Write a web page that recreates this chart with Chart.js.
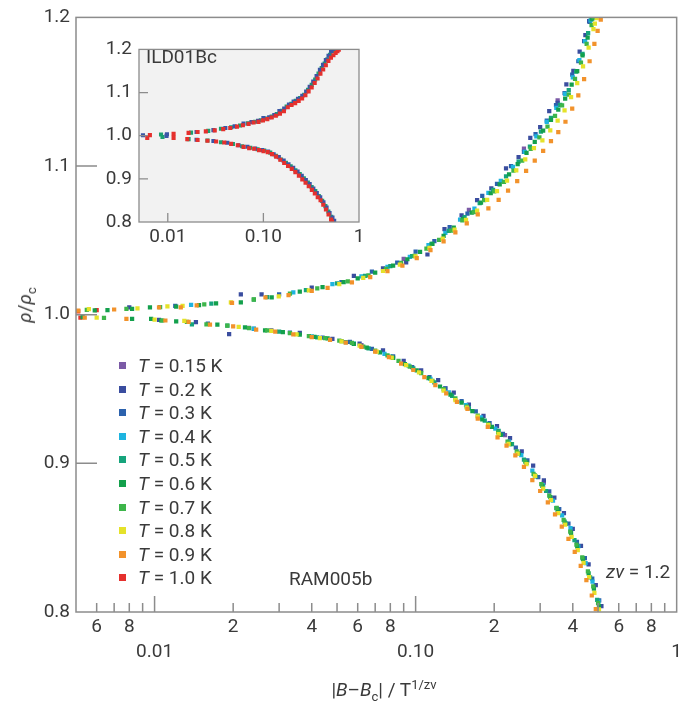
<!DOCTYPE html>
<html>
<head>
<meta charset="utf-8">
<script src="https://cdn.jsdelivr.net/npm/chart.js@4.4.1/dist/chart.umd.min.js"></script>
<style>
  html, body { margin: 0; padding: 0; background: #fff; }
  #wrap { position: relative; width: 685px; height: 705px; overflow: hidden; font-family: Roboto, "Open Sans", sans-serif; color: #3a3a3a; }
  #main { position: absolute; left: 0; top: 0; }
  #inset { position: absolute; left: 89px; top: 31px; }
  .txt { position: absolute; font-size: 19px; line-height: 22px; white-space: nowrap; }
  .leg { position: absolute; left: 0; top: 0; }
  .leg .row { position: absolute; left: 0; height: 22px; line-height: 22px; font-size: 19px; white-space: nowrap; }
  .leg .mk { position: absolute; left: 119px; top: 7px; width: 7px; height: 7px; }
  .leg .lb { position: absolute; left: 138px; top: 0; }
  sub, sup { font-size: 13px; line-height: 0; }
</style>
</head>
<body>
<div id="wrap">
  <canvas id="main" width="685" height="705"></canvas>
  <canvas id="inset" width="281" height="228"></canvas>
  <div id="legend" class="leg"></div>
  <div class="txt" id="ildLabel" style="left:146px; top:46px;">ILD01Bc</div>
  <div class="txt" id="ramLabel" style="left:289px; top:568px;">RAM005b</div>
  <div class="txt" id="znuLabel" style="left:606px; top:561px;"><i>zν</i> = 1.2</div>
  <div class="txt" id="xTitle" style="left:384px; top:679px; transform:translateX(-50%);">|<i>B</i>–<i>B</i><sub>c</sub>| / T<sup>1/zν</sup></div>
  <div class="txt" id="yTitle" style="left:25px; top:305px; transform:translate(-50%,-50%) rotate(-90deg);"><i>ρ</i>/<i>ρ</i><sub>c</sub></div>
</div>
<script>
// ---------- main chart: temperatures and colours ----------
const tempLabels = ['0.15', '0.2', '0.3', '0.4', '0.5', '0.6', '0.7', '0.8', '0.9', '1.0'];
const seriesColors = ['#7b5aa6', '#3a4d9f', '#2c62ad', '#1eb4e0', '#16a47c', '#13a04c', '#3db54a', '#e5e22a', '#f2922b', '#e5302d'];
const drawOrder = [8, 7, 6, 5, 4, 3, 2, 1, 0, 9];   // lower = drawn on top

// ---------- main chart data (upper branch rho>rho_c, lower branch rho<rho_c) ----------
const T015_upX = [0.09, 0.16, 0.26, 0.35];
const T015_upY = [1.0376, 1.0705, 1.1118, 1.1442];
const T015_loX = [0.023, 0.062, 0.13, 0.22, 0.31];
const T015_loY = [0.9912, 0.9796, 0.9505, 0.9190, 0.8870];

const T02_upX = [0.008, 0.0214, 0.0257, 0.040, 0.058, 0.075, 0.092, 0.111, 0.129, 0.150, 0.172, 0.195, 0.222, 0.248, 0.275, 0.300, 0.325, 0.350, 0.378, 0.402, 0.425, 0.447, 0.462];
const T02_upY = [1.0050, 1.0137, 1.0137, 1.0182, 1.0262, 1.0312, 1.0352, 1.0405, 1.0575, 1.0668, 1.0770, 1.0850, 1.0985, 1.1060, 1.1190, 1.1262, 1.1370, 1.1425, 1.1550, 1.1640, 1.1770, 1.1880, 1.1975];
const T02_loX = [0.0104, 0.0144, 0.0193, 0.028, 0.036, 0.048, 0.061, 0.075, 0.090, 0.105, 0.122, 0.140, 0.160, 0.182, 0.205, 0.230, 0.255, 0.282, 0.310, 0.340, 0.370, 0.400, 0.430, 0.460, 0.490, 0.515];
const T02_loY = [0.9966, 0.9950, 0.9870, 0.9895, 0.9878, 0.9838, 0.9805, 0.9760, 0.9690, 0.9625, 0.9560, 0.9475, 0.9395, 0.9320, 0.9250, 0.9170, 0.9080, 0.8985, 0.8885, 0.8770, 0.8665, 0.8560, 0.8445, 0.8320, 0.8180, 0.8040];

const T03_upX = [0.012, 0.030, 0.052, 0.068, 0.085, 0.100, 0.118, 0.135, 0.158, 0.180, 0.205, 0.232, 0.260, 0.288, 0.318, 0.345, 0.372, 0.398, 0.420, 0.442, 0.464];
const T03_upY = [1.0060, 1.0136, 1.0220, 1.0290, 1.0350, 1.0425, 1.0495, 1.0590, 1.0680, 1.0800, 1.0880, 1.1000, 1.1095, 1.1215, 1.1305, 1.1410, 1.1490, 1.1615, 1.1705, 1.1840, 1.1970];
const T03_loX = [0.016, 0.024, 0.033, 0.044, 0.056, 0.068, 0.082, 0.097, 0.113, 0.130, 0.150, 0.170, 0.192, 0.216, 0.242, 0.268, 0.295, 0.325, 0.355, 0.385, 0.415, 0.445, 0.475, 0.505];
const T03_loY = [0.9940, 0.9905, 0.9880, 0.9845, 0.9818, 0.9770, 0.9720, 0.9648, 0.9580, 0.9505, 0.9418, 0.9350, 0.9270, 0.9198, 0.9105, 0.9020, 0.8908, 0.8812, 0.8692, 0.8595, 0.8472, 0.8362, 0.8225, 0.8078];

const T04_upX = [0.0138, 0.034, 0.048, 0.062, 0.078, 0.095, 0.112, 0.130, 0.148, 0.168, 0.190, 0.212, 0.236, 0.262, 0.290, 0.318, 0.346, 0.374, 0.400, 0.424, 0.446, 0.468];
const T04_upY = [1.0066, 1.0150, 1.0206, 1.0258, 1.0321, 1.0389, 1.0468, 1.0551, 1.0639, 1.0714, 1.0819, 1.0901, 1.0994, 1.1095, 1.1200, 1.1297, 1.1391, 1.1485, 1.1597, 1.1712, 1.1840, 1.1980];
const T04_loX = [0.024, 0.040, 0.058, 0.076, 0.094, 0.114, 0.134, 0.156, 0.178, 0.202, 0.228, 0.254, 0.280, 0.308, 0.336, 0.364, 0.392, 0.420, 0.448, 0.476, 0.502];
const T04_loY = [0.9906, 0.9854, 0.9806, 0.9737, 0.9658, 0.9568, 0.9477, 0.9391, 0.9309, 0.9233, 0.9146, 0.9056, 0.8951, 0.8854, 0.8749, 0.8650, 0.8564, 0.8441, 0.8329, 0.8204, 0.8070];

const T05_upX = [0.0165, 0.027, 0.038, 0.050, 0.064, 0.080, 0.097, 0.115, 0.134, 0.154, 0.176, 0.198, 0.222, 0.248, 0.274, 0.302, 0.330, 0.358, 0.386, 0.412, 0.436, 0.458, 0.472];
const T05_upY = [1.0074, 1.0118, 1.0165, 1.0211, 1.0262, 1.0326, 1.0394, 1.0476, 1.0564, 1.0657, 1.0751, 1.0839, 1.0930, 1.1030, 1.1130, 1.1231, 1.1324, 1.1412, 1.1510, 1.1636, 1.1754, 1.1895, 1.1987];
const T05_loX = [0.0139, 0.019, 0.030, 0.042, 0.054, 0.066, 0.080, 0.098, 0.118, 0.138, 0.160, 0.184, 0.208, 0.234, 0.260, 0.288, 0.316, 0.346, 0.376, 0.406, 0.436, 0.466, 0.496];
const T05_loY = [0.9935, 0.9926, 0.9886, 0.9848, 0.9816, 0.9774, 0.9718, 0.9639, 0.9545, 0.9454, 0.9370, 0.9288, 0.9219, 0.9130, 0.9025, 0.8912, 0.8814, 0.8699, 0.8594, 0.8483, 0.8363, 0.8233, 0.8081];

const T06_upX = [0.0059, 0.0066, 0.0082, 0.0096, 0.0121, 0.0148, 0.0172, 0.0214, 0.0240, 0.0281, 0.036, 0.044, 0.053, 0.060, 0.070, 0.082, 0.093, 0.104, 0.116, 0.128, 0.140, 0.152, 0.164, 0.178, 0.194, 0.210, 0.228, 0.246, 0.266, 0.286, 0.308, 0.330, 0.352, 0.374, 0.396, 0.416, 0.436, 0.456, 0.476];
const T06_upY = [1.0029, 1.0030, 1.0039, 1.0050, 1.0054, 1.0065, 1.0077, 1.0083, 1.0101, 1.0117, 1.0156, 1.0186, 1.0219, 1.0244, 1.0283, 1.0330, 1.0373, 1.0422, 1.0477, 1.0531, 1.0586, 1.0643, 1.0686, 1.0754, 1.0817, 1.0876, 1.0944, 1.1013, 1.1088, 1.1163, 1.1238, 1.1311, 1.1380, 1.1453, 1.1547, 1.1638, 1.1745, 1.1864, 1.1994];
const T06_loX = [0.0053, 0.0082, 0.0097, 0.0106, 0.0121, 0.0174, 0.0222, 0.0265, 0.031, 0.036, 0.041, 0.046, 0.052, 0.058, 0.065, 0.073, 0.082, 0.091, 0.101, 0.112, 0.124, 0.136, 0.150, 0.165, 0.180, 0.196, 0.212, 0.230, 0.248, 0.266, 0.286, 0.306, 0.328, 0.350, 0.372, 0.394, 0.416, 0.438, 0.460, 0.482, 0.504];
const T06_loY = [0.9983, 0.9972, 0.9972, 0.9961, 0.9955, 0.9933, 0.9914, 0.9895, 0.9882, 0.9866, 0.9851, 0.9840, 0.9823, 0.9804, 0.9778, 0.9746, 0.9709, 0.9667, 0.9625, 0.9573, 0.9517, 0.9463, 0.9408, 0.9351, 0.9295, 0.9245, 0.9192, 0.9130, 0.9067, 0.9004, 0.8919, 0.8849, 0.8772, 0.8685, 0.8608, 0.8531, 0.8441, 0.8355, 0.8260, 0.8157, 0.8039];

const T07_upX = [0.0055, 0.0078, 0.0105, 0.0155, 0.024, 0.033, 0.042, 0.055, 0.066, 0.077, 0.088, 0.099, 0.110, 0.123, 0.137, 0.151, 0.167, 0.183, 0.200, 0.218, 0.237, 0.256, 0.276, 0.298, 0.320, 0.342, 0.364, 0.386, 0.408, 0.430, 0.452, 0.472, 0.480];
const T07_upY = [1.0032, 1.0040, 1.0051, 1.0069, 1.0103, 1.0142, 1.0177, 1.0225, 1.0265, 1.0308, 1.0348, 1.0395, 1.0445, 1.0503, 1.0566, 1.0634, 1.0690, 1.0770, 1.0830, 1.0894, 1.0969, 1.1036, 1.1116, 1.1193, 1.1265, 1.1337, 1.1408, 1.1481, 1.1586, 1.1695, 1.1822, 1.1948, 1.2000];
const T07_loX = [0.0064, 0.0107, 0.0133, 0.0158, 0.019, 0.023, 0.027, 0.033, 0.039, 0.045, 0.051, 0.057, 0.063, 0.070, 0.078, 0.086, 0.095, 0.105, 0.116, 0.128, 0.142, 0.157, 0.173, 0.190, 0.207, 0.225, 0.244, 0.263, 0.283, 0.303, 0.325, 0.347, 0.369, 0.391, 0.413, 0.435, 0.457, 0.479, 0.500];
const T07_loY = [0.9979, 0.9961, 0.9951, 0.9935, 0.9926, 0.9910, 0.9895, 0.9876, 0.9856, 0.9842, 0.9826, 0.9810, 0.9786, 0.9758, 0.9726, 0.9690, 0.9651, 0.9607, 0.9555, 0.9499, 0.9437, 0.9381, 0.9321, 0.9264, 0.9208, 0.9147, 0.9081, 0.9012, 0.8929, 0.8860, 0.8783, 0.8700, 0.8619, 0.8541, 0.8453, 0.8367, 0.8273, 0.8172, 0.8060];

const T08_upX = [0.0056, 0.0086, 0.0112, 0.0128, 0.0196, 0.0299, 0.039, 0.051, 0.063, 0.075, 0.087, 0.100, 0.113, 0.127, 0.141, 0.156, 0.172, 0.188, 0.205, 0.224, 0.243, 0.263, 0.284, 0.306, 0.328, 0.350, 0.372, 0.394, 0.416, 0.438, 0.460, 0.480, 0.486, 0.494];
const T08_upY = [1.0038, 1.0043, 1.0056, 1.0060, 1.0083, 1.0124, 1.0163, 1.0206, 1.0248, 1.0294, 1.0337, 1.0392, 1.0449, 1.0511, 1.0573, 1.0638, 1.0700, 1.0772, 1.0832, 1.0902, 1.0971, 1.1045, 1.1121, 1.1172, 1.1240, 1.1306, 1.1375, 1.1463, 1.1558, 1.1670, 1.1796, 1.1921, 1.1958, 1.1995];
const T08_loX = [0.0060, 0.0100, 0.0130, 0.0210, 0.0280, 0.0350, 0.043, 0.052, 0.061, 0.071, 0.081, 0.092, 0.103, 0.115, 0.128, 0.142, 0.157, 0.173, 0.190, 0.208, 0.227, 0.246, 0.266, 0.287, 0.308, 0.330, 0.352, 0.374, 0.396, 0.418, 0.440, 0.462, 0.484, 0.504];
const T08_loY = [0.9980, 0.9967, 0.9958, 0.9918, 0.9891, 0.9868, 0.9843, 0.9820, 0.9792, 0.9752, 0.9711, 0.9660, 0.9612, 0.9555, 0.9490, 0.9426, 0.9375, 0.9314, 0.9257, 0.9197, 0.9131, 0.9065, 0.8994, 0.8915, 0.8830, 0.8753, 0.8665, 0.8587, 0.8506, 0.8417, 0.8330, 0.8234, 0.8128, 0.8018];

const T09_upX = [0.0051, 0.0070, 0.0104, 0.0126, 0.0145, 0.0198, 0.0266, 0.0326, 0.040, 0.046, 0.057, 0.067, 0.078, 0.089, 0.101, 0.114, 0.128, 0.142, 0.157, 0.173, 0.190, 0.208, 0.226, 0.245, 0.265, 0.286, 0.308, 0.330, 0.352, 0.375, 0.398, 0.420, 0.442, 0.464, 0.484, 0.498, 0.512];
const T09_upY = [1.0028, 1.0035, 1.0050, 1.0050, 1.0062, 1.0079, 1.0117, 1.0132, 1.0160, 1.0180, 1.0218, 1.0252, 1.0293, 1.0330, 1.0380, 1.0435, 1.0494, 1.0554, 1.0615, 1.0675, 1.0715, 1.0773, 1.0834, 1.0899, 1.0967, 1.1036, 1.1102, 1.1168, 1.1229, 1.1298, 1.1387, 1.1476, 1.1584, 1.1705, 1.1822, 1.1909, 1.1985];
const T09_loX = [0.0054, 0.0078, 0.0110, 0.0135, 0.0163, 0.0200, 0.0245, 0.029, 0.034, 0.040, 0.047, 0.054, 0.062, 0.070, 0.079, 0.088, 0.098, 0.108, 0.119, 0.131, 0.144, 0.158, 0.173, 0.189, 0.206, 0.223, 0.241, 0.260, 0.280, 0.300, 0.321, 0.342, 0.363, 0.385, 0.407, 0.429, 0.451, 0.473, 0.490];
const T09_loY = [0.9981, 0.9972, 0.9961, 0.9951, 0.9933, 0.9921, 0.9900, 0.9886, 0.9868, 0.9849, 0.9831, 0.9812, 0.9784, 0.9751, 0.9714, 0.9671, 0.9628, 0.9580, 0.9526, 0.9471, 0.9413, 0.9367, 0.9301, 0.9245, 0.9174, 0.9120, 0.9054, 0.8977, 0.8887, 0.8814, 0.8737, 0.8657, 0.8575, 0.8492, 0.8405, 0.8310, 0.8215, 0.8111, 0.8020];

const T10_upX = [0.0051, 0.0060];
const T10_upY = [1.0022, 1.0031];
const T10_loX = [0.0052];
const T10_loY = [0.9980];

// ---------- inset (ILD01Bc) data ----------
const insetLabels = ['blue', 'green', 'red'];
const insetColors = ['#3a56a6', '#1aa070', '#e5302d'];
const insetOrder = [1, 2, 0];
const IB_upX = [0.0055, 0.0098, 0.020, 0.030, 0.040, 0.050, 0.062, 0.075, 0.088, 0.100, 0.115, 0.130, 0.147, 0.165, 0.185, 0.207, 0.230, 0.255, 0.280, 0.305, 0.332, 0.360, 0.390, 0.420, 0.450, 0.480, 0.510, 0.528];
const IB_upY = [1.0011, 1.0035, 1.0085, 1.0130, 1.0179, 1.0216, 1.0281, 1.0315, 1.0346, 1.0408, 1.0428, 1.0478, 1.0572, 1.0632, 1.0724, 1.0793, 1.0854, 1.0922, 1.1025, 1.1134, 1.1255, 1.1384, 1.1525, 1.1642, 1.1754, 1.1853, 1.1958, 1.1998];
const IB_loX = [0.0097, 0.020, 0.030, 0.042, 0.055, 0.068, 0.082, 0.097, 0.112, 0.128, 0.145, 0.163, 0.183, 0.205, 0.228, 0.252, 0.278, 0.305, 0.333, 0.362, 0.393, 0.425, 0.458, 0.492, 0.528, 0.550];
const IB_loY = [0.9995, 0.9907, 0.9876, 0.9837, 0.9780, 0.9743, 0.9703, 0.9668, 0.9634, 0.9571, 0.9503, 0.9423, 0.9337, 0.9257, 0.9168, 0.9072, 0.8973, 0.8877, 0.8778, 0.8673, 0.8573, 0.8456, 0.8334, 0.8208, 0.8101, 0.8025];

const IG_upX = [0.0085, 0.0175, 0.0265, 0.036, 0.046, 0.057, 0.069, 0.082, 0.094, 0.108, 0.122, 0.138, 0.156, 0.175, 0.196, 0.218, 0.242, 0.267, 0.293, 0.320, 0.348, 0.377, 0.407, 0.437, 0.467, 0.497, 0.527, 0.555];
const IG_upY = [1.0028, 1.0072, 1.0111, 1.0160, 1.0196, 1.0237, 1.0286, 1.0325, 1.0359, 1.0397, 1.0443, 1.0501, 1.0578, 1.0675, 1.0741, 1.0806, 1.0875, 1.0949, 1.1065, 1.1177, 1.1301, 1.1441, 1.1567, 1.1670, 1.1771, 1.1875, 1.1966, 1.1995];
const IG_loX = [0.0088, 0.0165, 0.026, 0.036, 0.048, 0.060, 0.073, 0.087, 0.102, 0.118, 0.135, 0.153, 0.172, 0.193, 0.216, 0.240, 0.265, 0.292, 0.320, 0.349, 0.380, 0.412, 0.445, 0.478, 0.512, 0.545];
const IG_loY = [0.9971, 0.9921, 0.9888, 0.9848, 0.9808, 0.9756, 0.9721, 0.9686, 0.9658, 0.9607, 0.9535, 0.9448, 0.9372, 0.9291, 0.9200, 0.9109, 0.9015, 0.8914, 0.8812, 0.8716, 0.8603, 0.8489, 0.8369, 0.8243, 0.8122, 0.8021];

const IR_upX = [0.0065, 0.0115, 0.0165, 0.0205, 0.025, 0.031, 0.038, 0.045, 0.053, 0.061, 0.070, 0.079, 0.089, 0.099, 0.110, 0.122, 0.135, 0.149, 0.164, 0.180, 0.197, 0.215, 0.234, 0.254, 0.275, 0.297, 0.320, 0.344, 0.369, 0.395, 0.422, 0.450, 0.479, 0.509, 0.540, 0.570, 0.595, 0.615];
const IR_upY = [1.0014, 1.0043, 1.0065, 1.0085, 1.0100, 1.0124, 1.0152, 1.0180, 1.0210, 1.0241, 1.0275, 1.0305, 1.0320, 1.0356, 1.0385, 1.0421, 1.0463, 1.0512, 1.0567, 1.0661, 1.0710, 1.0756, 1.0806, 1.0862, 1.0937, 1.1028, 1.1118, 1.1220, 1.1326, 1.1439, 1.1533, 1.1634, 1.1733, 1.1805, 1.1863, 1.1917, 1.1959, 1.1992];
const IR_loX = [0.0061, 0.0115, 0.0160, 0.0205, 0.026, 0.032, 0.039, 0.046, 0.054, 0.062, 0.071, 0.080, 0.090, 0.100, 0.111, 0.123, 0.136, 0.150, 0.165, 0.181, 0.198, 0.216, 0.235, 0.255, 0.276, 0.298, 0.321, 0.345, 0.370, 0.396, 0.423, 0.451, 0.480, 0.510, 0.522];
const IR_loY = [0.9945, 0.9949, 0.9920, 0.9902, 0.9883, 0.9865, 0.9842, 0.9810, 0.9779, 0.9740, 0.9709, 0.9699, 0.9666, 0.9643, 0.9620, 0.9572, 0.9516, 0.9442, 0.9367, 0.9297, 0.9230, 0.9155, 0.9074, 0.8988, 0.8908, 0.8830, 0.8744, 0.8659, 0.8573, 0.8504, 0.8401, 0.8290, 0.8174, 0.8054, 0.8010];

// ---------- axes: tick values and labels ----------
const xLabelValues = [0.006, 0.008, 0.01, 0.02, 0.04, 0.06, 0.08, 0.1, 0.2, 0.4, 0.6, 0.8, 1];
const xLabelText = ['6', '8', ['', '0.01'], '2', '4', '6', '8', ['', '0.10'], '2', '4', '6', '8', ['', '1']];
const xMinorTicks = [0.006, 0.007, 0.008, 0.009, 0.02, 0.03, 0.04, 0.05, 0.06, 0.07, 0.08, 0.09, 0.2, 0.3, 0.4, 0.5, 0.6, 0.7, 0.8, 0.9];
const xMajorTicks = [0.01, 0.1];
const yTickValues = [0.8, 0.9, 1.0, 1.1, 1.2];
const yMarkTicks = [0.9, 1.0, 1.1];
const insetXLabelValues = [0.01, 0.1, 1];
const insetXLabelText = ['0.01', '0.10', '1'];
const insetXMarks = [0.01, 0.1];

// ---------- build ----------
function pts(ux, uy, lx, ly) {
  const out = [];
  ux.forEach((x, i) => out.push({ x: x, y: uy[i] }));
  lx.forEach((x, i) => out.push({ x: x, y: ly[i] }));
  return out;
}
const mainSeries = [
  pts(T015_upX, T015_upY, T015_loX, T015_loY),
  pts(T02_upX, T02_upY, T02_loX, T02_loY),
  pts(T03_upX, T03_upY, T03_loX, T03_loY),
  pts(T04_upX, T04_upY, T04_loX, T04_loY),
  pts(T05_upX, T05_upY, T05_loX, T05_loY),
  pts(T06_upX, T06_upY, T06_loX, T06_loY),
  pts(T07_upX, T07_upY, T07_loX, T07_loY),
  pts(T08_upX, T08_upY, T08_loX, T08_loY),
  pts(T09_upX, T09_upY, T09_loX, T09_loY),
  pts(T10_upX, T10_upY, T10_loX, T10_loY)
];
const insetSeries = [
  pts(IB_upX, IB_upY, IB_loX, IB_loY),
  pts(IG_upX, IG_upY, IG_loX, IG_loY),
  pts(IR_upX, IR_upY, IR_loX, IR_loY)
];

const FONT = 'Roboto';
const TXT = '#3a3a3a';
const LINE = '#8c8c8c';

const framePlugin = {
  id: 'frame',
  beforeDatasetsDraw(chart, args, o) {
    if (!o.bg) return;
    const a = chart.chartArea, ctx = chart.ctx;
    ctx.save(); ctx.fillStyle = o.bg;
    ctx.fillRect(a.left, a.top, a.right - a.left, a.bottom - a.top);
    ctx.restore();
  },
  afterDatasetsDraw(chart, args, o) {
    const a = chart.chartArea, ctx = chart.ctx, xs = chart.scales.x, ys = chart.scales.y;
    ctx.save();
    ctx.strokeStyle = LINE; ctx.lineWidth = o.width;
    ctx.strokeRect(a.left, a.top, a.right - a.left, a.bottom - a.top);
    ctx.beginPath();
    (o.xMinor || []).forEach(v => { const p = xs.getPixelForValue(v); ctx.moveTo(p, a.bottom); ctx.lineTo(p, a.bottom - o.xMinorLen); });
    (o.xMajor || []).forEach(v => { const p = xs.getPixelForValue(v); ctx.moveTo(p, a.bottom); ctx.lineTo(p, a.bottom - o.xMajorLen); });
    (o.yMarks || []).forEach(v => { const p = ys.getPixelForValue(v); ctx.moveTo(a.left, p); ctx.lineTo(a.left + o.yLen, p); });
    ctx.stroke();
    ctx.restore();
  }
};

new Chart(document.getElementById('main'), {
  type: 'scatter',
  data: {
    datasets: mainSeries.map((d, i) => ({
      label: 'T = ' + tempLabels[i] + ' K',
      data: d,
      order: drawOrder[i],
      pointStyle: 'rect',
      pointRadius: 3,
      pointBorderWidth: 0,
      backgroundColor: seriesColors[i],
      borderColor: seriesColors[i]
    }))
  },
  options: {
    responsive: false,
    animation: false,
    layout: { padding: { top: 13, right: 4, left: 0, bottom: 0 } },
    plugins: {
      legend: { display: false },
      tooltip: { enabled: false },
      frame: { width: 1.5, xMinor: xMinorTicks, xMajor: xMajorTicks, xMinorLen: 9, xMajorLen: 16, yMarks: yMarkTicks, yLen: 21 }
    },
    scales: {
      x: {
        type: 'logarithmic', min: 0.005, max: 1,
        afterBuildTicks: s => { s.ticks = xLabelValues.map(v => ({ value: v })); },
        afterFit: s => { s.height = 93; },
        grid: { display: false, drawTicks: false, tickLength: 0 },
        border: { display: false },
        ticks: {
          autoSkip: false, maxRotation: 0, minRotation: 0, padding: 3,
          color: TXT, font: { family: FONT, size: 19, lineHeight: 1.32 },
          callback: (v, i) => xLabelText[i]
        }
      },
      y: {
        type: 'linear', min: 0.8, max: 1.2,
        afterBuildTicks: s => { s.ticks = yTickValues.map(v => ({ value: v })); },
        afterFit: s => { s.width = 76; },
        grid: { display: false, drawTicks: false, tickLength: 0 },
        border: { display: false },
        ticks: {
          padding: 6, color: TXT, font: { family: FONT, size: 19 },
          callback: v => Number(v).toFixed(1)
        }
      }
    }
  },
  plugins: [framePlugin]
});

new Chart(document.getElementById('inset'), {
  type: 'scatter',
  data: {
    datasets: insetSeries.map((d, i) => ({
      label: insetLabels[i],
      data: d,
      order: insetOrder[i],
      pointStyle: 'rect',
      pointRadius: 2.9,
      pointBorderWidth: 0,
      backgroundColor: insetColors[i],
      borderColor: insetColors[i]
    }))
  },
  options: {
    responsive: false,
    animation: false,
    layout: { padding: { top: 10, right: 11, left: 0, bottom: 0 } },
    plugins: {
      legend: { display: false },
      tooltip: { enabled: false },
      frame: { bg: '#f2f2f2', width: 1.3, xMajor: insetXMarks, xMajorLen: 9, yMarks: yMarkTicks, yLen: 9 }
    },
    scales: {
      x: {
        type: 'logarithmic', min: 0.005, max: 1,
        afterBuildTicks: s => { s.ticks = insetXLabelValues.map(v => ({ value: v })); },
        afterFit: s => { s.height = 37; },
        grid: { display: false, drawTicks: false, tickLength: 0 },
        border: { display: false },
        ticks: {
          autoSkip: false, maxRotation: 0, minRotation: 0, padding: 4,
          color: TXT, font: { family: FONT, size: 19 },
          callback: (v, i) => insetXLabelText[i]
        }
      },
      y: {
        type: 'linear', min: 0.8, max: 1.2,
        afterBuildTicks: s => { s.ticks = yTickValues.map(v => ({ value: v })); },
        afterFit: s => { s.width = 50; },
        grid: { display: false, drawTicks: false, tickLength: 0 },
        border: { display: false },
        ticks: {
          padding: 7, color: TXT, font: { family: FONT, size: 19 },
          callback: v => Number(v).toFixed(1)
        }
      }
    }
  },
  plugins: [framePlugin]
});

// ---------- legend (HTML text) ----------
const legendEl = document.getElementById('legend');
tempLabels.forEach((t, i) => {
  const row = document.createElement('div');
  row.className = 'row';
  row.style.top = (355 + i * 23.6) + 'px';
  const mk = document.createElement('span');
  mk.className = 'mk';
  mk.style.background = seriesColors[i];
  const lb = document.createElement('span');
  lb.className = 'lb';
  lb.innerHTML = '<i>T</i> = ' + t + ' K';
  row.appendChild(mk); row.appendChild(lb);
  legendEl.appendChild(row);
});
</script>
</body>
</html>
